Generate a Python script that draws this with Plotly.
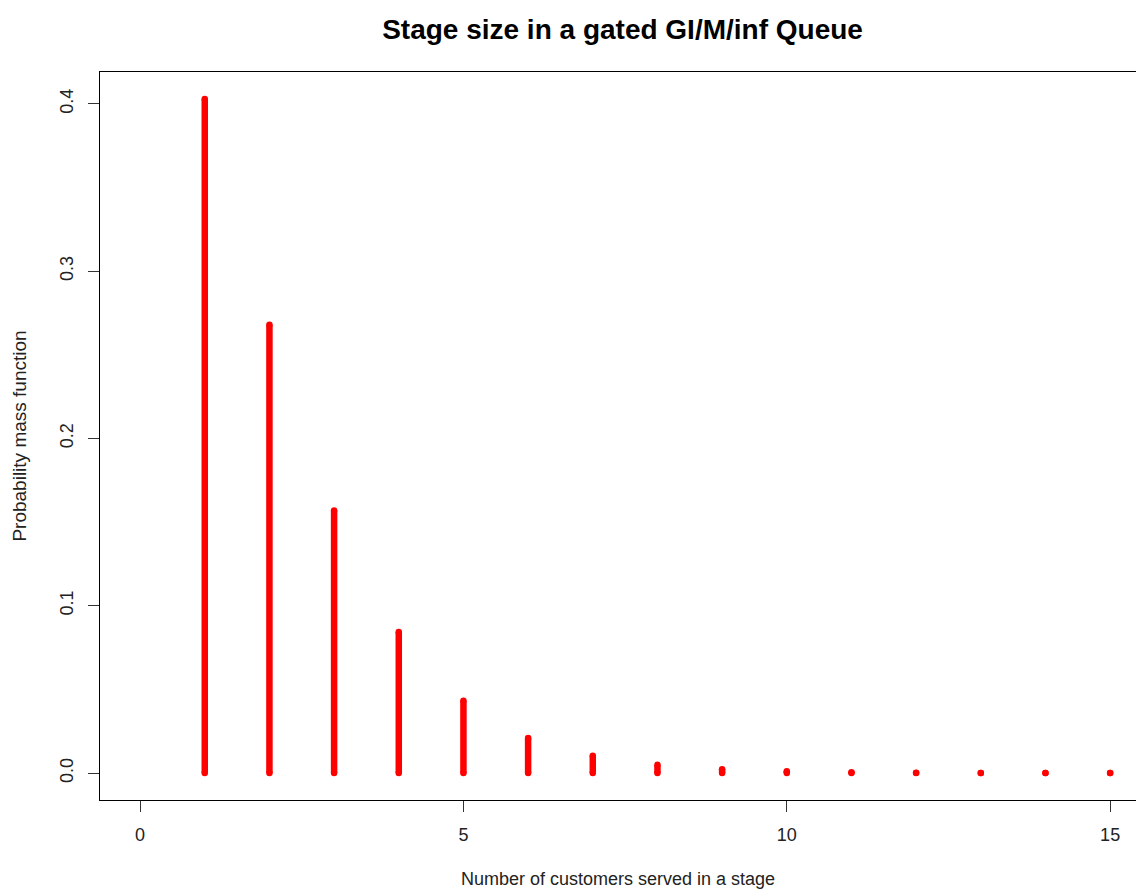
import plotly.graph_objects as go

# Stage size distribution for a gated GI/M/inf queue
stage_size = [1, 2, 3, 4, 5, 6, 7, 8, 9, 10, 11, 12, 13, 14, 15]
pmf = [0.403, 0.268, 0.157, 0.0844, 0.0432, 0.021, 0.0103, 0.0049,
       0.0023, 0.0011, 0.0005, 0.00024, 0.00011, 0.00005, 0.00002]

x_ticks = [0, 5, 10, 15]
y_ticks = [0.0, 0.1, 0.2, 0.3, 0.4]

RED = "#ff0000"
FONT = "Liberation Sans, Arial, sans-serif"

# vertical "h"-type spikes from 0 up to each probability
seg_x, seg_y = [], []
for k, p in zip(stage_size, pmf):
    seg_x += [k, k, None]
    seg_y += [0, p, None]

fig = go.Figure()
fig.add_trace(go.Scatter(
    x=seg_x, y=seg_y, mode="lines",
    line=dict(color=RED, width=6.5),
    hoverinfo="skip", showlegend=False,
))
# rounded end caps at the base and top of each spike
fig.add_trace(go.Scatter(
    x=stage_size + stage_size, y=[0] * len(pmf) + pmf, mode="markers",
    marker=dict(color=RED, size=6.5, line=dict(width=0)),
    showlegend=False,
))

fig.update_layout(
    width=1136, height=896,
    margin=dict(l=100, r=0, t=72, b=96),
    paper_bgcolor="white", plot_bgcolor="white",
    font=dict(family=FONT, color="#222222"),
    title=dict(
        text="<b>Stage size in a gated GI/M/inf Queue</b>",
        x=0.548, xanchor="center", y=1 - 29 / 896, yanchor="middle",
        font=dict(size=28, color="black", family=FONT),
    ),
    xaxis=dict(
        range=[-0.62, 15.4],
        tickvals=x_ticks, ticktext=[str(v) for v in x_ticks],
        showgrid=False, zeroline=False,
        showline=True, linecolor="black", linewidth=1.3, mirror=True,
        ticks="outside", ticklen=11, tickwidth=1, tickcolor="#333333",
        tickfont=dict(size=18),
        ticklabelstandoff=7,
        title=dict(text="Number of customers served in a stage",
                   font=dict(size=18), standoff=28),
    ),
    yaxis=dict(
        range=[-0.0161, 0.4191],
        tickvals=y_ticks, ticktext=[f"{v:.1f}" for v in y_ticks],
        tickangle=-90,
        showgrid=False, zeroline=False,
        showline=True, linecolor="black", linewidth=1.3,
        ticks="outside", ticklen=11, tickwidth=1, tickcolor="#333333",
        tickfont=dict(size=18),
        ticklabelstandoff=8,
        title=dict(text="Probability mass function",
                   font=dict(size=19), standoff=25),
    ),
)

fig.write_html("out.html")
